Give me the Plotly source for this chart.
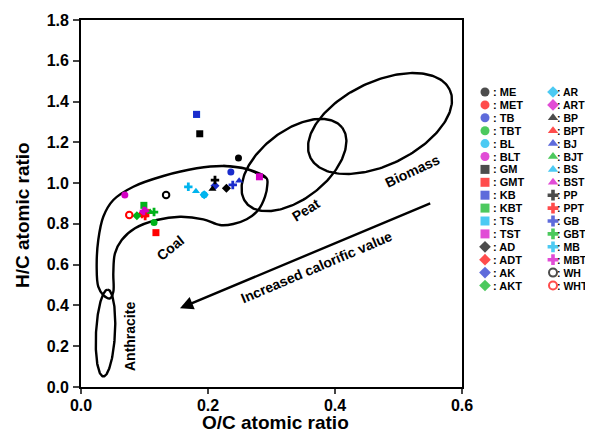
import numpy as np
import plotly.graph_objects as go

# ---------------- data ----------------
series_names = ["ME", "MET", "TB", "TBT", "BL", "BLT", "GM", "GMT", "KB", "KBT", "TS", "TST",
                "AD", "ADT", "AK", "AKT",
                "AR", "ART", "BP", "BPT", "BJ", "BJT", "BS", "BST", "PP", "PPT", "GB", "GBT",
                "MB", "MBT", "WH", "WHT"]
oc_ratio = [0.248, 0.102, 0.236, 0.115, 0.194, 0.069, 0.187, 0.118, 0.182, 0.099, 0.182, 0.281,
            0.229, 0.096, 0.211, 0.088,
            0.194, 0.099, 0.207, 0.107, 0.249, 0.109, 0.181, 0.102, 0.211, 0.101, 0.239, 0.115,
            0.169, 0.099, 0.134, 0.076]
hc_ratio = [1.123, 0.848, 1.054, 0.807, 0.943, 0.942, 1.242, 0.757, 1.337, 0.891, 1.337, 1.031,
            0.975, 0.848, 0.987, 0.840,
            0.943, 0.858, 0.971, 0.858, 1.012, 0.858, 0.960, 0.868, 1.015, 0.839, 0.991, 0.858,
            0.982, 0.863, 0.942, 0.844]

x_ticks = [0.0, 0.2, 0.4, 0.6]
y_ticks = [0.0, 0.2, 0.4, 0.6, 0.8, 1.0, 1.2, 1.4, 1.6, 1.8]

# Van Krevelen region outlines (data coordinates)
coal_x = [0.2924, 0.2609, 0.2241, 0.1822, 0.1296, 0.0824, 0.0509, 0.0351, 0.0272, 0.0247,
          0.0272, 0.0351, 0.0457, 0.0509, 0.0509, 0.0535, 0.0641, 0.0850, 0.1192, 0.1559,
          0.1926, 0.2189, 0.2398, 0.2609, 0.2792, 0.2898, 0.2934]
coal_y = [1.0235, 1.0691, 1.0839, 1.0726, 1.0348, 0.9823, 0.9171, 0.8352, 0.7209, 0.5900,
          0.4919, 0.4512, 0.4350, 0.4674, 0.5576, 0.6557, 0.7209, 0.7783, 0.8190, 0.8352,
          0.8225, 0.7945, 0.7994, 0.8225, 0.8681, 0.9333, 0.9907]
# ellipses: centre x, centre y, semi-major (px), semi-minor (px), angle (deg)
peat_ellipse = [0.3354, 1.0888, 61, 34, 38]
biomass_ellipse = [0.4709, 1.2923, 77.5, 41.5, 26]
anthracite_ellipse = [0.0386, 0.2648, 43.5, 9.5, 87]

# ---------------- styles ----------------
col_black, col_red, col_blue = "#000000", "#ff0000", "#1a2ccc"
col_green, col_cyan, col_mag = "#00b21a", "#00b4ee", "#d400c4"
six = [col_black, col_red, col_blue, col_green, col_cyan, col_mag]
colors = six + six + [col_black, col_red, col_blue, col_green] + \
    [col_cyan, col_mag] + six + six + [col_black, col_red]
symbols = ["circle"] * 6 + ["square"] * 6 + ["diamond"] * 4 + ["diamond"] * 2 + \
    ["triangle-up"] * 6 + ["cross"] * 6 + ["circle-open"] * 2

# page geometry (page body has an 8px margin)
OFF = 8
FW, FH = 593 - OFF, 435 - OFF
PL, PR, PT, PB = 81, 462, 20, 387      # plot frame in page pixels
SX = (PR - PL) / (x_ticks[-1] - x_ticks[0])
SY = (PB - PT) / (y_ticks[-1] - y_ticks[0])
FONT = "Liberation Sans, Arial, sans-serif"


def px_x(p):
    return (p - OFF) / FW


def px_y(p):
    return 1 - (p - OFF) / FH


fig = go.Figure()


def ellipse(params, n=200):
    cx, cy, a, b, ang = params
    t = np.linspace(0, 2 * np.pi, n)
    th = np.radians(ang)
    dx = a * np.cos(t) * np.cos(th) - b * np.sin(t) * np.sin(th)
    dy = a * np.cos(t) * np.sin(th) + b * np.sin(t) * np.cos(th)
    return cx + dx / SX, cy + dy / SY


line_style = dict(color="black", width=2.4)
fig.add_trace(go.Scatter(x=coal_x + coal_x[:3], y=coal_y + coal_y[:3], mode="lines",
                         line=dict(shape="spline", smoothing=1.0, **line_style),
                         hoverinfo="skip", showlegend=False))
for p in (peat_ellipse, biomass_ellipse, anthracite_ellipse):
    ex, ey = ellipse(p)
    fig.add_trace(go.Scatter(x=ex, y=ey, mode="lines", line=line_style,
                             hoverinfo="skip", showlegend=False))

# draw hidden series first
order = sorted(range(len(series_names)), key=lambda i: series_names[i] not in ("BL", "TS"))
for i in order:
    sym = symbols[i]
    fig.add_trace(go.Scatter(
        x=[oc_ratio[i]], y=[hc_ratio[i]], mode="markers", name=series_names[i],
        marker=dict(symbol=sym, color=colors[i], size=6.5 if "open" in sym else 7,
                    line=dict(width=2 if "open" in sym else 0, color=colors[i])),
        showlegend=False))

# custom two-column legend, built from the series lists
leg_x_marker = [485, 553]
leg_x_text = [491, 555]
leg_font_size = [11, 10.5]
leg_y0, leg_dy = 92, 12.9
lx, ly = [], []
for i, nm in enumerate(series_names):
    c, r = divmod(i, 16)
    lx.append(leg_x_marker[c])
    ly.append(leg_y0 + r * leg_dy)
    fig.add_annotation(xref="paper", yref="paper", x=px_x(leg_x_text[c]),
                       y=px_y(leg_y0 + r * leg_dy), text=": " + nm, showarrow=False,
                       xanchor="left", yanchor="middle",
                       font=dict(family=FONT, size=leg_font_size[c], color="black",
                                 weight="bold"))
fig.add_trace(go.Scatter(
    x=lx, y=ly, mode="markers", xaxis="x2", yaxis="y2", showlegend=False, hoverinfo="skip",
    marker=dict(symbol=symbols, color=colors,
                size=[8 if "open" in s else 9 for s in symbols],
                line=dict(width=[2 if "open" in s else 0 for s in symbols], color=colors))))

# region labels
lab_font = dict(family=FONT, size=14, color="black", weight="bold")
labels = [("Coal", 0.1402, 0.6832, -39), ("Peat", 0.3539, 0.8681, -32),
          ("Biomass", 0.5217, 1.0608, -25), ("Anthracite", 0.0772, 0.2452, -90),
          ("Increased calorific value", 0.3712, 0.590, -23)]
for txt, x, y, ang in labels:
    fig.add_annotation(x=x, y=y, text=txt, showarrow=False, textangle=ang, font=lab_font,
                       xanchor="center", yanchor="middle")
fig.add_annotation(x=0.1559, y=0.386, ax=0.5523, ay=0.9039, axref="x", ayref="y",
                   text="", showarrow=True, arrowhead=2, arrowsize=1.1, arrowwidth=2.4,
                   arrowcolor="black")

# axis titles
title_font = dict(family=FONT, size=19, color="black", weight="bold")
fig.add_annotation(xref="paper", yref="paper", x=px_x(275), y=px_y(422),
                   xanchor="center", yanchor="middle",
                   text="O/C atomic ratio", showarrow=False, font=title_font)
fig.add_annotation(xref="paper", yref="paper", x=px_x(22), y=px_y(215),
                   xanchor="center", yanchor="middle",
                   text="H/C atomic ratio", showarrow=False, textangle=-90, font=title_font)

tick_font = dict(family=FONT, size=16, color="black", weight="bold")
fig.update_layout(
    width=FW, height=FH, margin=dict(l=0, r=0, t=0, b=0, pad=0, autoexpand=False),
    paper_bgcolor="white", plot_bgcolor="rgba(0,0,0,0)", showlegend=False,
    xaxis=dict(domain=[px_x(PL), px_x(PR)], range=[x_ticks[0], x_ticks[-1]], tickvals=x_ticks,
               ticktext=[f"{v:.1f}" for v in x_ticks], ticks="outside", ticklen=5,
               tickwidth=1.8, showline=True, linewidth=1.8, linecolor="black",
               mirror=True, showgrid=False, zeroline=False, tickfont=tick_font,
               ticklabelstandoff=-2, automargin=False),
    yaxis=dict(domain=[px_y(PB), px_y(PT)], range=[y_ticks[0], y_ticks[-1]],
               tickvals=y_ticks, ticktext=[f"{v:.1f}" for v in y_ticks], ticks="outside",
               ticklen=6, tickwidth=1.8, showline=True, linewidth=1.8, linecolor="black",
               mirror=True, showgrid=False, zeroline=False, tickfont=tick_font,
               ticklabelstandoff=1, automargin=False),
    xaxis2=dict(domain=[0, 1], range=[OFF, OFF + FW], visible=False, anchor="y2",
                fixedrange=True, automargin=False),
    yaxis2=dict(domain=[0, 1], range=[OFF + FH, OFF], visible=False, anchor="x2",
                fixedrange=True, automargin=False),
)

fig.write_html("out.html")
